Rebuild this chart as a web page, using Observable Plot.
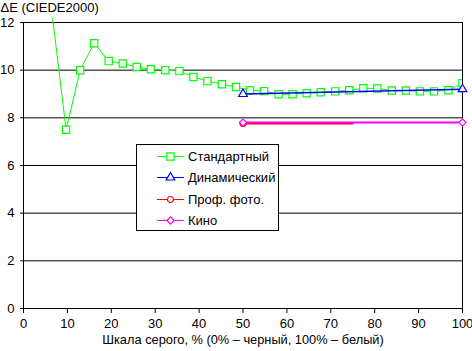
<!DOCTYPE html>
<html><head><meta charset="utf-8">
<script src="https://cdn.jsdelivr.net/npm/d3@7"></script>
<script src="https://cdn.jsdelivr.net/npm/@observablehq/plot@0.6"></script>
<style>
html,body{margin:0;padding:0;background:#fff;}
#chart{position:relative;width:472px;height:351px;overflow:hidden;}
</style></head><body><div id="chart"></div>
<script>
// Grey levels (% of scale) for the "Стандартный" mode
const grayLevels = [6.5, 9.7, 12.9, 16.1, 19.4, 22.6, 25.8, 29.0, 32.3, 35.5, 38.7, 41.9, 45.2, 48.4, 51.6, 54.8, 58.1, 61.3, 64.5, 67.7, 71.0, 74.2, 77.4, 80.6, 83.9, 87.1, 90.3, 93.5, 96.8, 100];
const standardDE = [12.4, 7.50, 10.00, 11.13, 10.38, 10.28, 10.13, 10.04, 10.00, 9.96, 9.71, 9.54, 9.41, 9.29, 9.16, 9.12, 8.99, 8.99, 9.03, 9.07, 9.11, 9.16, 9.24, 9.23, 9.15, 9.15, 9.11, 9.11, 9.16, 9.45];
const dynamicX = [50, 100];
const dynamicDE = [9.0, 9.2];
const photoX = [50, 75];
const photoDE = [7.76, 7.76];
const cinemaX = [50, 100];
const cinemaDE = [7.8, 7.8];
const seriesNames = ["Стандартный", "Динамический", "Проф. фото.", "Кино"];
const seriesColors = ["#00ff00", "#0000ff", "#ff0000", "#ff00ff"];
const xTicks = [0, 10, 20, 30, 40, 50, 60, 70, 80, 90, 100];
const yTicks = [0, 2, 4, 6, 8, 10, 12];
const yTitle = "ΔE (CIEDE2000)";
const xTitle = "Шкала серого, % (0% – черный, 100% – белый)";

const rows = (xs, ys) => xs.map((v, i) => ({x: v, y: ys[i]}));
const std = rows(grayLevels, standardDE);
const dyn = rows(dynamicX, dynamicDE);
const pho = rows(photoX, photoDE);
const cin = rows(cinemaX, cinemaDE);

const FONT = "'Liberation Sans', Arial, sans-serif";

const plot = Plot.plot({
  width: 472, height: 351,
  marginLeft: 23, marginRight: 10, marginTop: 17.7, marginBottom: 43,
  style: {fontFamily: FONT, fontSize: "13px", background: "white", color: "black"},
  x: {domain: [0, 100], ticks: xTicks, tickSize: 5, tickPadding: 5, tickFormat: d => String(d), label: null},
  y: {domain: [0, 12.18], ticks: yTicks, tickSize: 3, tickPadding: 6, tickFormat: d => String(d), label: null},
  marks: [
    Plot.ruleY(yTicks, {stroke: "black", strokeWidth: 1}),
    Plot.ruleX([0, 100], {y1: 0, y2: 12, stroke: "black", strokeWidth: 1}),
    Plot.line(std, {x: "x", y: "y", stroke: seriesColors[0], strokeWidth: 1, clip: true}),
    Plot.dot(std, {x: "x", y: "y", symbol: "square", r: 4.1, stroke: seriesColors[0], strokeWidth: 1.2, fill: "white", clip: true}),
    Plot.line(dyn, {x: "x", y: "y", stroke: seriesColors[1], strokeWidth: 1.5}),
    Plot.dot(dyn, {x: "x", y: "y", symbol: "triangle", r: 3.2, stroke: seriesColors[1], strokeWidth: 1.2, fill: "white"}),
    Plot.line(pho, {x: "x", y: "y", stroke: seriesColors[2], strokeWidth: 2}),
    Plot.dot(pho.slice(0, 1), {x: "x", y: "y", symbol: "circle", r: 3, stroke: seriesColors[2], strokeWidth: 1.2, fill: "white"}),
    Plot.line(cin, {x: "x", y: "y", stroke: seriesColors[3], strokeWidth: 2}),
    Plot.dot(cin, {x: "x", y: "y", symbol: "diamond2", r: 3.2, stroke: seriesColors[3], strokeWidth: 1.2, fill: "white"}),
    Plot.text([xTitle], {text: d => d, frameAnchor: "bottom", lineAnchor: "top", dy: 26, fontSize: 12.8, fill: "black"}),
    Plot.text([yTitle], {text: d => d, frameAnchor: "top-left", textAnchor: "start", lineAnchor: "top", dx: -23, dy: -15.4, fontSize: 13, fill: "black"})
  ]
});
document.getElementById("chart").appendChild(plot);

// Legend box (decoration drawn on top of the plot area)
const svg = d3.select(plot);
const lg = svg.append("g").attr("font-family", FONT).attr("font-size", 13).attr("text-anchor", "start");
lg.append("rect").attr("x", 136.5).attr("y", 144.5).attr("width", 142).attr("height", 86)
  .attr("fill", "white").attr("stroke", "black").attr("stroke-width", 1);
const symbols = [d3.symbolSquare, d3.symbolTriangle, d3.symbolCircle, d3.symbolDiamond2];
const symSizes = [Math.PI * 4.1 * 4.1, Math.PI * 3.2 * 3.2, Math.PI * 3 * 3, Math.PI * 3.2 * 3.2];
seriesNames.forEach((name, i) => {
  const cy = 155.5 + i * 21.6;
  const row = lg.append("g").attr("transform", `translate(0,${Math.round(cy) + 0.5})`);
  row.append("line").attr("x1", 157).attr("x2", 184).attr("y1", 0).attr("y2", 0)
    .attr("stroke", seriesColors[i]).attr("stroke-width", 1);
  row.append("path").attr("d", d3.symbol(symbols[i], symSizes[i])())
    .attr("transform", "translate(170.5,0)")
    .attr("fill", "white").attr("stroke", seriesColors[i]).attr("stroke-width", 1.2);
  row.append("text").attr("x", 188).attr("y", 0).attr("dy", "0.35em").attr("fill", "black")
    .attr("text-anchor", "start").text(name);
});
</script>
</body></html>
